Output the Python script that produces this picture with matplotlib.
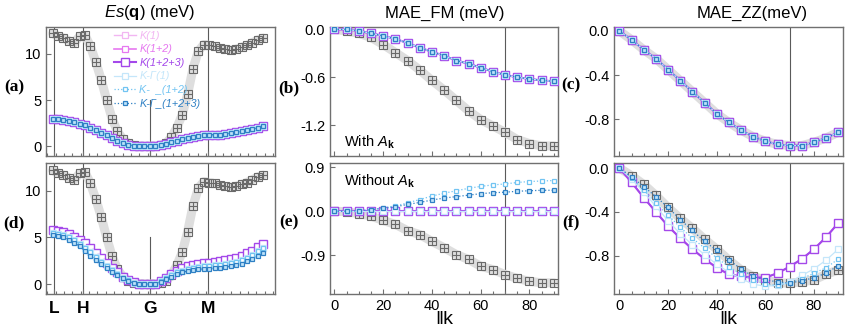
import numpy as np
import matplotlib
matplotlib.use("Agg")
import matplotlib.pyplot as plt
from matplotlib.ticker import FixedLocator, MultipleLocator, FormatStrFormatter
from matplotlib.lines import Line2D

plt.rcParams['font.family'] = ['Liberation Sans', 'DejaVu Sans']
plt.rcParams['axes.unicode_minus'] = False
plt.rcParams['mathtext.fontset'] = 'custom'
plt.rcParams['mathtext.rm'] = 'Liberation Sans'
plt.rcParams['mathtext.it'] = 'Liberation Sans:italic'
plt.rcParams['mathtext.bf'] = 'Liberation Sans:bold'

# ---------------- data ----------------
# k-path (left column): point index along L-H-G-M path
path_idx = list(range(40))
sym_labels = ['L', 'H', 'G', 'M']
sym_pos = [0.24, 5.67, 18.0, 28.8]

es_gray = [12.2, 11.9, 11.7, 11.4, 11.2, 11.9, 12.0, 10.8, 9.1, 7.2,
           5.0, 3.0, 1.6, 0.8, 0.3, 0.1, 0.0, 0.0, 0.0, 0.0,
           0.1, 0.3, 1.0, 2.0, 3.4, 5.6, 8.4, 10.3, 11.0, 10.9,
           10.8, 10.6, 10.5, 10.4, 10.5, 10.7, 10.9, 11.2, 11.5, 11.7]

# (a) with A_k: all six model series coincide
es_a = [3.0, 2.95, 2.85, 2.75, 2.6, 2.4, 2.25, 2.0, 1.75, 1.45,
        1.18, 0.9, 0.6, 0.35, 0.15, 0.05, 0.0, 0.0, 0.0, 0.03,
        0.12, 0.25, 0.42, 0.6, 0.78, 0.92, 1.02, 1.12, 1.2, 1.24,
        1.25, 1.27, 1.33, 1.42, 1.52, 1.62, 1.73, 1.85, 2.0, 2.15]

# (d) without A_k
es_d_K = [5.85, 5.75, 5.6, 5.4, 5.1, 4.75, 4.4, 3.9, 3.35, 2.8,
          2.3, 1.75, 1.25, 0.8, 0.45, 0.2, 0.05, 0.0, 0.0, 0.05,
          0.3, 0.7, 1.1, 1.45, 1.7, 1.9, 2.05, 2.15, 2.22, 2.28,
          2.35, 2.45, 2.55, 2.7, 2.85, 3.05, 3.3, 3.6, 3.95, 4.3]
es_d_KG12 = [5.5, 5.4, 5.25, 5.05, 4.75, 4.35, 3.9, 3.4, 2.9, 2.4,
             1.95, 1.5, 1.1, 0.7, 0.38, 0.15, 0.04, 0.0, 0.0, 0.05,
             0.28, 0.6, 0.95, 1.25, 1.45, 1.62, 1.75, 1.83, 1.9, 1.95,
             2.0, 2.07, 2.15, 2.27, 2.4, 2.6, 2.85, 3.15, 3.5, 3.85]
es_d_KG123 = [5.3, 5.2, 5.0, 4.75, 4.45, 4.05, 3.55, 3.05, 2.55, 2.1,
              1.7, 1.3, 0.95, 0.6, 0.3, 0.12, 0.03, 0.0, 0.0, 0.05,
              0.25, 0.5, 0.8, 1.05, 1.25, 1.4, 1.5, 1.57, 1.62, 1.66,
              1.7, 1.76, 1.83, 1.92, 2.03, 2.2, 2.45, 2.7, 3.0, 3.3]

# middle / right columns: angle of k
kang = [0, 5, 10, 15, 20, 25, 30, 35, 40, 45, 50, 55, 60, 65, 70, 75, 80, 85, 90]

fm_gray = [0.0, -0.02, -0.05, -0.1, -0.19, -0.29, -0.39, -0.51, -0.64, -0.76,
           -0.89, -1.02, -1.13, -1.21, -1.29, -1.38, -1.43, -1.46, -1.46]
fm_b = [0.0, 0.0, -0.02, -0.05, -0.08, -0.12, -0.17, -0.23, -0.28, -0.33,
        -0.39, -0.43, -0.48, -0.53, -0.57, -0.6, -0.62, -0.64, -0.65]
fm_e_gray = [0.0, -0.01, -0.05, -0.1, -0.19, -0.27, -0.4, -0.48, -0.62, -0.75,
             -0.89, -0.99, -1.13, -1.2, -1.3, -1.38, -1.44, -1.47, -1.47]
fm_e_K = [0.0] * 19
fm_e_KG12 = [0.0, 0.0, 0.01, 0.03, 0.07, 0.11, 0.17, 0.24, 0.31, 0.37,
             0.42, 0.47, 0.51, 0.54, 0.56, 0.59, 0.61, 0.62, 0.63]
fm_e_KG123 = [0.0, 0.0, 0.01, 0.03, 0.06, 0.09, 0.14, 0.18, 0.23, 0.27,
              0.3, 0.33, 0.36, 0.38, 0.39, 0.41, 0.42, 0.43, 0.43]

zz_c = [0.0, -0.08, -0.17, -0.25, -0.35, -0.45, -0.55, -0.65, -0.75, -0.83,
        -0.9, -0.96, -1.0, -1.03, -1.04, -1.04, -1.01, -0.97, -0.92]
zz_f_gray = [0.0, -0.07, -0.15, -0.25, -0.36, -0.46, -0.55, -0.65, -0.74, -0.84,
             -0.93, -0.99, -1.02, -1.05, -1.05, -1.04, -1.02, -0.97, -0.93]
zz_f_K = [0.0, -0.13, -0.27, -0.4, -0.53, -0.64, -0.74, -0.83, -0.91, -0.97,
          -0.99, -1.0, -1.0, -0.96, -0.9, -0.83, -0.74, -0.63, -0.5]
zz_f_KG1 = [0.0, -0.1, -0.22, -0.35, -0.48, -0.6, -0.7, -0.79, -0.88, -0.95,
            -1.01, -1.06, -1.08, -1.07, -1.04, -0.98, -0.92, -0.84, -0.74]
zz_f_KG12 = [0.0, -0.09, -0.2, -0.32, -0.43, -0.54, -0.64, -0.73, -0.82, -0.9,
             -0.97, -1.02, -1.06, -1.07, -1.05, -1.01, -0.96, -0.91, -0.83]
zz_f_KG123 = [0.0, -0.08, -0.17, -0.26, -0.36, -0.47, -0.57, -0.67, -0.75, -0.84,
              -0.92, -0.99, -1.02, -1.04, -1.05, -1.03, -1.0, -0.96, -0.89]

series_names = ['K(1)', 'K(1+2)', 'K(1+2+3)', 'K-Γ(1)', 'K-  _(1+2)', 'K-Γ_(1+2+3)']

# ---------------- styles ----------------
styles = {
    'K(1)':        dict(color='#f2b6f2', lw=1.0, ls='-', marker='s', ms=4.8, mfc='white', mew=0.9),
    'K(1+2)':      dict(color='#e678f0', lw=1.2, ls='-', marker='s', ms=4.8, mfc='white', mew=0.9),
    'K(1+2+3)':    dict(color='#a448ea', lw=1.5, ls='-', marker='s', ms=5.3, mfc='white', mew=1.0),
    'K-Γ(1)':      dict(color='#c4e6fa', lw=0.9, ls='-', marker='s', ms=4.2, mfc='white', mew=0.9),
    'K-  _(1+2)':  dict(color='#72c4f2', lw=0.9, ls=':', marker='s', ms=3.5, mfc='white', mew=0.9),
    'K-Γ_(1+2+3)': dict(color='#2f80c4', lw=0.9, ls=':', marker='s', ms=3.0, mfc='#bfe4fa', mew=0.9),
}
LINE_C = '#5a5a5a'
SPINE_C = '#707070'


def draw_gray(ax, x, y):
    ax.plot(x, y, color='#dedede', lw=6.5, solid_capstyle='round', zorder=1)
    ax.plot(x, y, ls='none', marker='s', ms=5.2, mfc='none', mec='#6a6a6a', mew=0.8, zorder=2)
    ax.plot(x, y, ls='none', marker='+', ms=5.2, mec='#6a6a6a', mew=0.8, zorder=2)


def draw_series(ax, x, ys):
    for i, (name, y) in enumerate(zip(series_names, ys)):
        ax.plot(x, y, zorder=3 + i, **styles[name])


def style_axes(ax):
    for s in ax.spines.values():
        s.set_color(SPINE_C)
        s.set_linewidth(1.0)
    ax.tick_params(which='both', direction='in', color=SPINE_C, labelsize=10.5,
                   labelcolor='black', top=False, right=False)
    ax.tick_params(which='major', length=3.5, width=0.8)
    ax.tick_params(which='minor', length=2.5, width=0.8)


fig = plt.figure(figsize=(8.5, 3.27), dpi=100)
W, H = 850.0, 327.0


def make_ax(x0, x1, y0, y1):
    return fig.add_axes([x0 / W, 1 - y1 / H, (x1 - x0) / W, (y1 - y0) / H])

cols = [(46, 275), (330, 558), (614, 843)]
rows = [(27, 155.5), (163, 294)]
axs = [[make_ax(c[0], c[1], r[0], r[1]) for c in cols] for r in rows]

# ---------- left column ----------
for r, ax in enumerate([axs[0][0], axs[1][0]]):
    draw_gray(ax, path_idx, es_gray)
    if r == 0:
        draw_series(ax, path_idx, [es_a] * 6)
        ax.set_ylim(-1.0, 12.9)
    else:
        draw_series(ax, path_idx, [es_d_K, es_d_K, es_d_K, es_d_KG12, es_d_KG12, es_d_KG123])
        ax.set_ylim(-1.07, 13.0)
    ax.set_xlim(-1.24, 41.2)
    for lab, p in zip(sym_labels, sym_pos):
        if lab == 'G':
            ax.plot([p, p], [ax.get_ylim()[0], 5], color=LINE_C, lw=0.8, zorder=0.5)
        else:
            ax.axvline(p, color=LINE_C, lw=0.8, zorder=0.5)
    style_axes(ax)
    ax.xaxis.set_major_locator(FixedLocator(sym_pos))
    ax.xaxis.set_minor_locator(FixedLocator(list(np.arange(-1.0, 41.0, 1.55))))
    ax.set_yticks([0, 5, 10])
    if r == 0:
        ax.set_xticklabels([])
    else:
        ax.set_xticklabels(sym_labels, fontsize=12.5, fontweight='bold')
        ax.tick_params(axis='x', which='major', pad=5)

# legend in (a)
handles = [Line2D([], [], **styles[n]) for n in series_names]
leg = axs[0][0].legend(handles, series_names, loc='upper left', bbox_to_anchor=(0.265, 1.03),
                       frameon=False, fontsize=7.8, labelspacing=0.33, handlelength=2.0,
                       handletextpad=0.3, borderpad=0.2, labelcolor='linecolor',
                       prop=dict(style='italic', size=7.8, family=['Liberation Sans', 'DejaVu Sans']))

# ---------- middle column ----------
ax = axs[0][1]
draw_gray(ax, kang, fm_gray)
draw_series(ax, kang, [fm_b] * 6)
ax.set_ylim(-1.58, 0.03)
ax.set_yticks([0.0, -0.6, -1.2])
ax.text(0.06, 0.07, r'With $A_{\mathbf{k}}$', transform=ax.transAxes, fontsize=10.5)

ax = axs[1][1]
draw_gray(ax, kang, fm_e_gray)
draw_series(ax, kang, [fm_e_K, fm_e_K, fm_e_K, fm_e_K, fm_e_KG12, fm_e_KG123])
ax.set_ylim(-1.70, 0.99)
ax.set_yticks([0.9, 0.0, -0.9])
ax.text(0.06, 0.83, r'Without $A_{\mathbf{k}}$', transform=ax.transAxes, fontsize=10.5)

# ---------- right column ----------
ax = axs[0][2]
draw_gray(ax, kang, zz_c)
draw_series(ax, kang, [zz_c] * 6)
ax.set_ylim(-1.13, 0.036)
ax.set_yticks([0.0, -0.4, -0.8])

ax = axs[1][2]
draw_gray(ax, kang, zz_f_gray)
draw_series(ax, kang, [zz_f_K, zz_f_K, zz_f_K, zz_f_KG1, zz_f_KG12, zz_f_KG123])
ax.set_ylim(-1.15, 0.046)
ax.set_yticks([0.0, -0.4, -0.8])

for r in range(2):
    for c in (1, 2):
        ax = axs[r][c]
        ax.set_xlim(-1.8 if c == 1 else -2.2, 91.7 if c == 1 else 91.9)
        ax.axvline(70, color=LINE_C, lw=0.8, zorder=0.5)
        style_axes(ax)
        ax.xaxis.set_major_locator(MultipleLocator(20))
        ax.xaxis.set_minor_locator(MultipleLocator(5))
        ax.yaxis.set_major_formatter(FormatStrFormatter('%.1f'))
        if r == 0:
            ax.set_xticklabels([])
        else:
            ax.set_xlabel('‖k', fontsize=14, labelpad=-1.5)

# titles
fig.text(150 / W, 1 - 13 / H, r'$Es$($\mathbf{q}$) (meV)', ha='center', va='center', fontsize=12)
fig.text(445 / W, 1 - 13 / H, 'MAE_FM (meV)', ha='center', va='center', fontsize=12)
fig.text(752 / W, 1 - 13 / H, 'MAE_ZZ(meV)', ha='center', va='center', fontsize=12)

# panel labels
plab = dict(fontsize=12.5, fontweight='bold', family=['Liberation Serif', 'DejaVu Serif'],
            ha='center', va='center')
for lab, (px, py) in zip(['(a)', '(b)', '(c)', '(d)', '(e)', '(f)'],
                         [(14, 87), (289, 88), (571, 85), (14, 223), (289, 222), (571, 222)]):
    fig.text(px / W, 1 - py / H, lab, **plab)

fig.savefig('out.png', dpi=100)
